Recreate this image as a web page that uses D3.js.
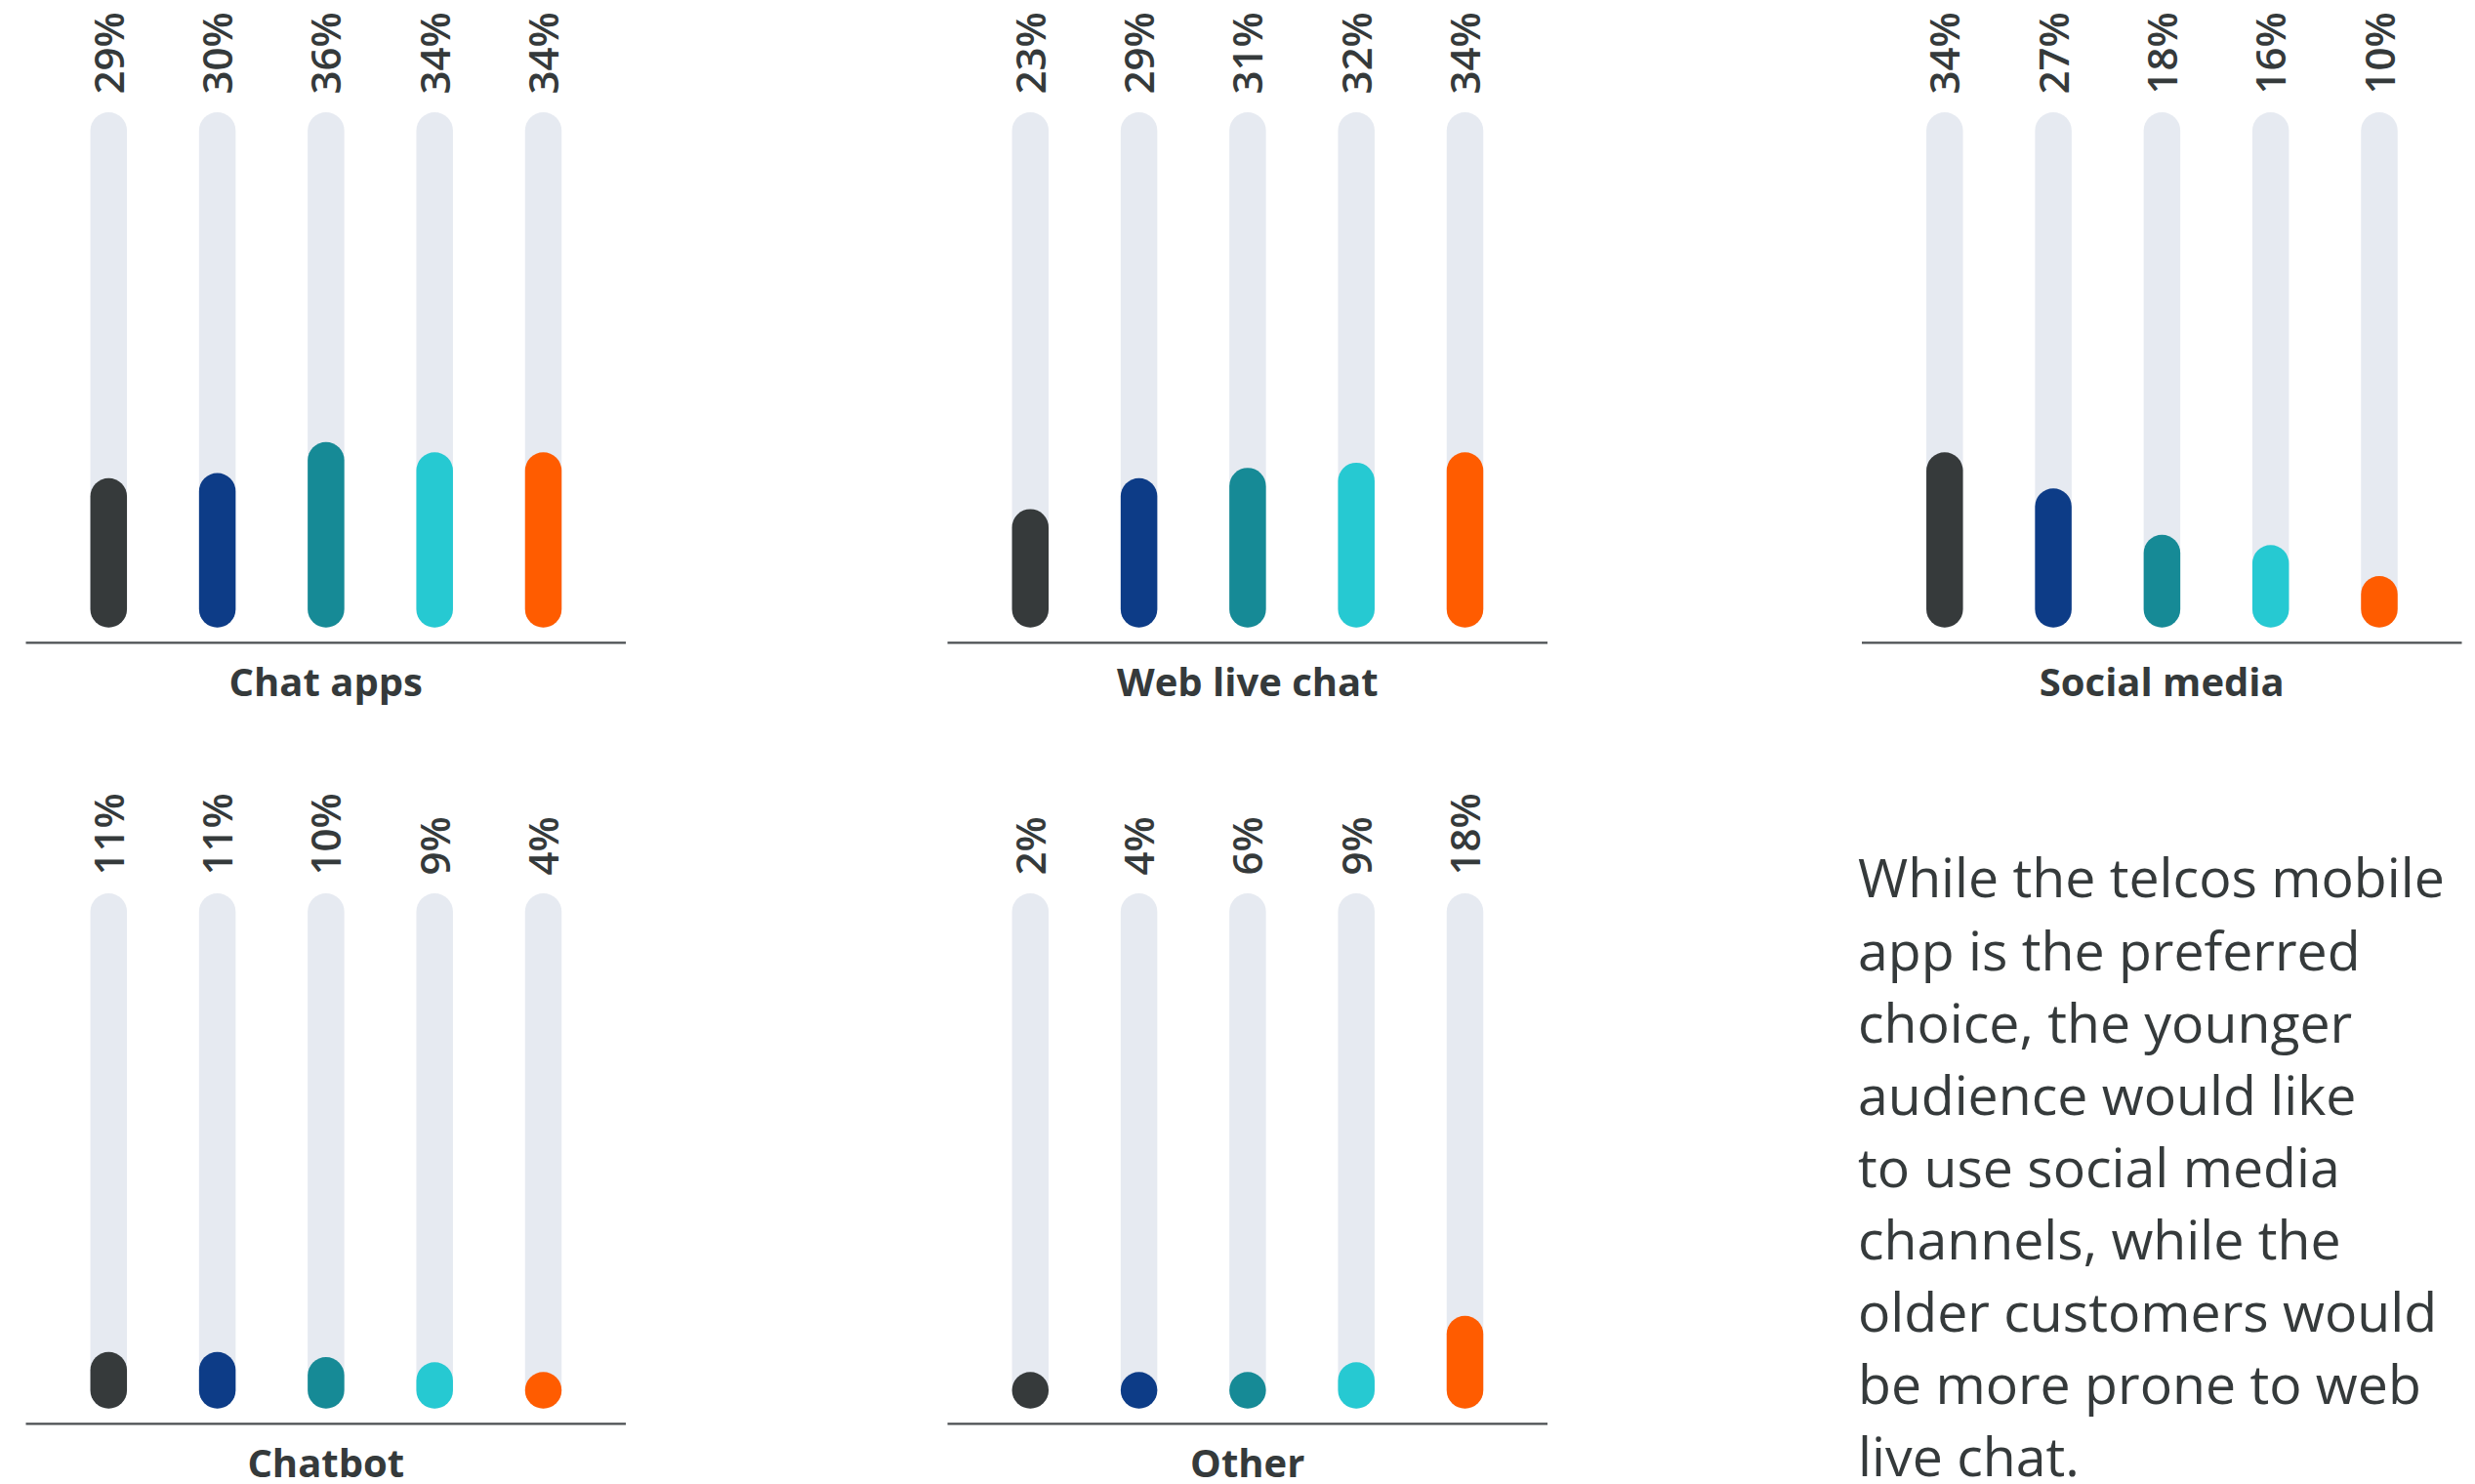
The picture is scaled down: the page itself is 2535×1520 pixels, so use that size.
<!DOCTYPE html>
<html>
<head>
<meta charset="utf-8">
<script src="https://cdn.jsdelivr.net/npm/d3@7"></script>
<style>
  html, body { margin: 0; padding: 0; background: #ffffff; }
  svg { display: block; }
</style>
</head>
<body>
<svg id="chart" width="2535" height="1520"></svg>
<script>
// Preferred contact channel, share of respondents per group (%)
const channels = ["Chat apps", "Web live chat", "Social media", "Chatbot", "Other"];
const chatApps    = [29, 30, 36, 34, 34];
const webLiveChat = [23, 29, 31, 32, 34];
const socialMedia = [34, 27, 18, 16, 10];
const chatbot     = [11, 11, 10, 9, 4];
const other       = [2, 4, 6, 9, 18];
const groupColors = ["#363a3b", "#0d3c87", "#168a96", "#26c9d2", "#ff5c00"];
const noteLines = [
  "While the telcos mobile",
  "app is the preferred",
  "choice, the younger",
  "audience would like",
  "to use social media",
  "channels, while the",
  "older customers would",
  "be more prone to web",
  "live chat."
];

const seriesByChannel = [chatApps, webLiveChat, socialMedia, chatbot, other];

// layout
const ink = "#353a3b";
const trackColor = "#e6eaf1";
const colX = [26.5, 970.5, 1907];
const rowTop = [115, 915];
const panelW = 614.5;
const trackH = 527.8;
const barW = 37.5;
const firstBar = 84.8;
const barStep = 111.3;
const axisGap = 15.5;

const svg = d3.select("#chart");

seriesByChannel.forEach((values, p) => {
  const x0 = colX[p % 3];
  const top = rowTop[Math.floor(p / 3)];
  const g = svg.append("g").attr("class", "panel");

  const x = d3.scalePoint()
    .domain(d3.range(values.length))
    .range([x0 + firstBar, x0 + firstBar + barStep * (values.length - 1)]);
  const y = d3.scaleLinear().domain([0, 100]).range([top + trackH, top]);

  // background tracks (full scale)
  g.selectAll("rect.track").data(values).join("rect")
    .attr("class", "track")
    .attr("x", (d, i) => x(i) - barW / 2)
    .attr("y", y(100))
    .attr("width", barW)
    .attr("height", y(0) - y(100))
    .attr("rx", barW / 2)
    .attr("fill", trackColor);

  // value pills; very small values keep a round cap
  g.selectAll("rect.value").data(values).join("rect")
    .attr("class", "value")
    .attr("x", (d, i) => x(i) - barW / 2)
    .attr("y", d => y(0) - Math.max(y(0) - y(d), barW))
    .attr("width", barW)
    .attr("height", d => Math.max(y(0) - y(d), barW))
    .attr("rx", barW / 2)
    .attr("fill", (d, i) => groupColors[i]);

  // percentage labels, rotated
  g.selectAll("text.pct").data(values).join("text")
    .attr("class", "pct")
    .attr("transform", (d, i) => `translate(${x(i) + 15.5},${top - 18.5}) rotate(-90)`)
    .attr("text-anchor", "start")
    .attr("font-family", "'Open Sans', sans-serif")
    .attr("font-weight", 600)
    .attr("font-size", 42)
    .attr("fill", ink)
    .text(d => d + "%");

  // baseline
  g.append("line")
    .attr("x1", x0).attr("x2", x0 + panelW)
    .attr("y1", y(0) + axisGap).attr("y2", y(0) + axisGap)
    .attr("stroke", "#4a4e51")
    .attr("stroke-width", 2.2);

  // channel name
  g.append("text")
    .attr("x", x0 + panelW / 2)
    .attr("y", y(0) + axisGap + 55)
    .attr("text-anchor", "middle")
    .attr("font-family", "'Open Sans', sans-serif")
    .attr("font-weight", 700)
    .attr("font-size", 40)
    .attr("fill", ink)
    .text(channels[p]);
});

// commentary block
const note = svg.append("g").attr("class", "note");
const noteText = note.selectAll("text").data(noteLines).join("text")
  .attr("x", 1903)
  .attr("y", (d, i) => 919.4 + i * 74.1)
  .attr("font-family", "'Open Sans', sans-serif")
  .attr("font-weight", 400)
  .attr("font-size", 50)
  .attr("fill", ink)
  .text(d => d);

// size the block so its first line spans the column
const firstW = noteText.node().getComputedTextLength();
const fitted = 50 * 601 / firstW;
noteText.attr("font-size", fitted);
</script>
</body>
</html>
